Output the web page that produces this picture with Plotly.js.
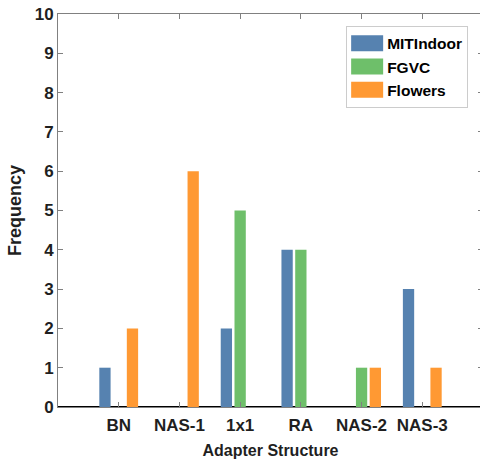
<!DOCTYPE html>
<html>
<head>
<meta charset="utf-8">
<script src="https://cdn.plot.ly/plotly-3.0.1.min.js"></script>
<style>
html,body{margin:0;padding:0;overflow:hidden;background:#fff;}
#chart{width:484px;height:459px;}
</style>
</head>
<body>
<div id="chart"></div>
<script>
const categories = ['BN', 'NAS-1', '1x1', 'RA', 'NAS-2', 'NAS-3'];
const positions = [1, 2, 3, 4, 5, 6];
const mitIndoor = [1, 0, 2, 4, 0, 3];
const fgvc = [0, 0, 5, 4, 1, 0];
const flowers = [2, 6, 0, 0, 1, 1];
const yTicks = [0,1,2,3,4,5,6,7,8,9,10];

const colors = {MITIndoor: '#5682B0', FGVC: '#6EBF6A', Flowers: '#FF9933'};
const font = '"Liberation Sans", Arial, Helvetica, sans-serif';

const traces = [
  {name: 'MITIndoor', y: mitIndoor},
  {name: 'FGVC', y: fgvc},
  {name: 'Flowers', y: flowers}
].map(s => ({
  type: 'bar', x: positions, y: s.y, name: s.name,
  marker: {color: colors[s.name], line: {width: 0}},
  hoverinfo: 'x+y+name'
}));

const layout = {
  width: 484, height: 459,
  margin: {l: 58, r: 1, t: 14, b: 52},
  paper_bgcolor: '#fff', plot_bgcolor: '#fff',
  barmode: 'group', bargap: 0.32, bargroupgap: 0.18,
  font: {family: font, color: '#1f1f1f'},
  showlegend: true,
  legend: {
    x: 0.678, y: 0.97, xanchor: 'left', yanchor: 'top',
    bgcolor: '#fff', bordercolor: '#cccccc', borderwidth: 1,
    font: {family: font, size: 15.5, color: '#000', weight: 'bold'},
    itemclick: false
  },
  xaxis: {
    range: [0, 7], tickmode: 'array', tickvals: positions, ticktext: categories,
    ticks: 'inside', ticklen: 5, tickcolor: '#808080', tickwidth: 1,
    showline: true, linecolor: '#808080', linewidth: 1, mirror: 'ticks',
    showgrid: false, zeroline: false, ticklabelstandoff: 3,
    tickfont: {family: font, size: 17, color: '#1f1f1f', weight: 'bold'},
    title: {text: 'Adapter Structure', font: {family: font, size: 16, color: '#1f1f1f', weight: 'bold'}, standoff: 12},
    fixedrange: true
  },
  yaxis: {
    range: [0, 10], tickmode: 'array', tickvals: yTicks,
    ticks: 'inside', ticklen: 5, tickcolor: '#808080', tickwidth: 1,
    showline: true, linecolor: '#808080', linewidth: 1, mirror: 'ticks',
    showgrid: false, zeroline: true, zerolinecolor: '#000', zerolinewidth: 1.3,
    tickfont: {family: font, size: 17, color: '#1f1f1f', weight: 'bold'},
    title: {text: 'Frequency', font: {family: font, size: 18, color: '#1f1f1f', weight: 'bold'}, standoff: 8},
    fixedrange: true
  }
};

Plotly.newPlot('chart', traces, layout, {displayModeBar: false, staticPlot: true}).then(() => {
  document.querySelectorAll('.legend .legendpoints path').forEach(p => {
    p.setAttribute('d', 'M16,8H-16V-8H16Z');
  });
});
</script>
</body>
</html>
